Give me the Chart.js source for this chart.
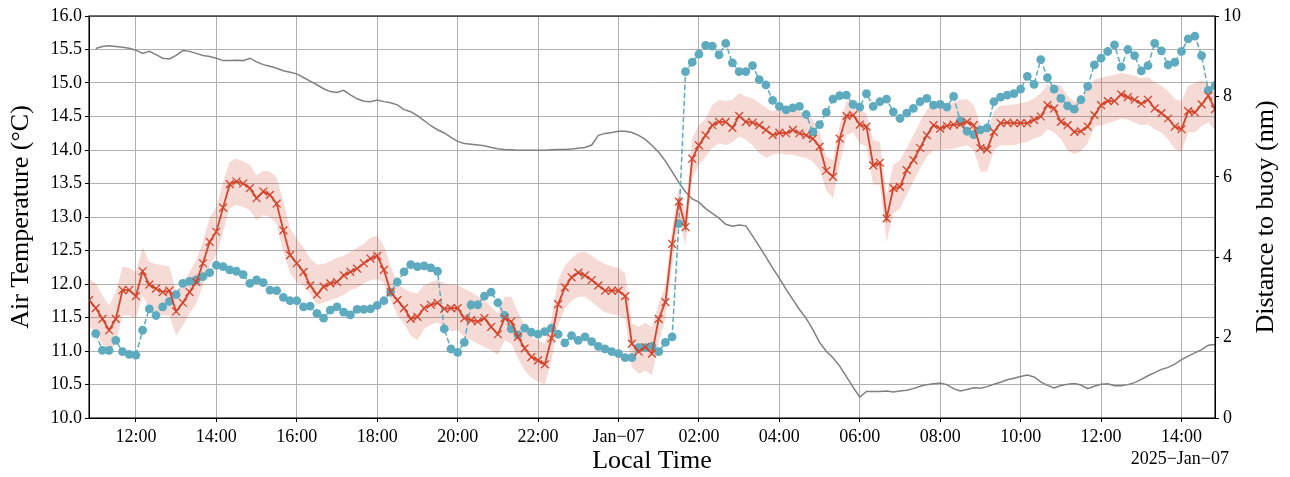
<!DOCTYPE html>
<html>
<head>
<meta charset="utf-8">
<script src="https://cdn.jsdelivr.net/npm/chart.js@4"></script>
<style>
  body { margin: 0; background: #fff; }
</style>
</head>
<body>
<canvas id="tempChart" width="1290" height="477"></canvas>
<script>
// 10-minute samples, starting 2025-01-06 10:50 local time (x in hours since Jan 6 00:00)
const startHour = 10 + 50 / 60;
const stepHour = 10 / 60;

// modelled air temperature (°C)
const modelTemp = [
  11.76, 11.64, 11.48, 11.31, 11.48, 11.91, 11.91, 11.82, 12.19, 11.99, 11.93, 11.88, 11.90, 11.59, 11.72, 11.88, 12.03, 12.31, 12.63, 12.78, 13.14, 13.49, 13.53, 13.50, 13.43,
  13.28, 13.38, 13.33, 13.20, 12.80, 12.43, 12.31, 12.18, 11.98, 11.84, 11.96, 12.01, 12.03, 12.13, 12.18, 12.23, 12.31, 12.38, 12.42, 12.21, 11.88, 11.76, 11.64, 11.48,
  11.51, 11.64, 11.69, 11.72, 11.63, 11.64, 11.64, 11.49, 11.46, 11.44, 11.49, 11.36, 11.25, 11.49, 11.44, 11.21, 11.04, 10.91, 10.86, 10.80, 11.19, 11.70, 11.95, 12.10,
  12.17, 12.13, 12.06, 11.98, 11.90, 11.90, 11.90, 11.82, 11.11, 10.99, 11.06, 10.96, 11.48, 11.73, 12.60, 13.23, 12.85, 13.87, 14.07, 14.22, 14.37, 14.42, 14.42,
  14.33, 14.51, 14.42, 14.41, 14.37, 14.30, 14.22, 14.26, 14.25, 14.30, 14.25, 14.22, 14.17, 14.05, 13.69, 13.60, 14.17, 14.51, 14.52, 14.38, 14.35, 13.77, 13.81, 12.98, 13.43,
  13.45, 13.70, 13.85, 14.03, 14.22, 14.37, 14.32, 14.36, 14.38, 14.38, 14.42, 14.37, 14.03, 14.01, 14.27, 14.40, 14.41, 14.40, 14.40, 14.40, 14.45, 14.50, 14.67,
  14.62, 14.42, 14.37, 14.27, 14.28, 14.35, 14.52, 14.67, 14.73, 14.73, 14.83, 14.79, 14.75, 14.69, 14.75, 14.62, 14.55, 14.47, 14.35, 14.31, 14.58, 14.56, 14.68, 14.81, 14.61
];

// model spread, upper and lower edge
const modelHigh = [
  12.08, 12.01, 11.83, 11.68, 11.88, 12.26, 12.24, 12.18, 12.55, 12.33, 12.30, 12.28, 12.26, 11.88, 12.01, 12.18, 12.36, 12.63, 12.99, 13.15, 13.53, 13.83, 13.87, 13.83, 13.78,
  13.62, 13.69, 13.68, 13.59, 13.23, 12.83, 12.68, 12.54, 12.38, 12.29, 12.30, 12.34, 12.39, 12.42, 12.48, 12.54, 12.60, 12.69, 12.72, 12.57, 12.26, 12.01, 11.93,
  11.88, 11.86, 11.98, 12.03, 12.06, 12.01, 11.99, 11.99, 11.93, 11.88, 11.82, 11.76, 11.66, 11.56, 11.81, 11.81, 11.58, 11.38, 11.21, 11.16, 11.11, 11.48, 12.06,
  12.28, 12.38, 12.47, 12.48, 12.42, 12.35, 12.30, 12.26, 12.24, 12.16, 11.41, 11.36, 11.42, 11.36, 11.71, 11.98, 12.83, 13.43, 13.08, 14.17, 14.37, 14.47, 14.67, 14.75,
  14.73, 14.75, 14.85, 14.80, 14.77, 14.71, 14.63, 14.58, 14.62, 14.60, 14.62, 14.58, 14.53, 14.45, 14.27, 13.90, 13.85, 14.37, 14.73, 14.73, 14.60, 14.55, 14.15, 14.12,
  13.33, 13.78, 13.85, 14.03, 14.22, 14.42, 14.60, 14.70, 14.71, 14.70, 14.71, 14.75, 14.76, 14.67, 14.37, 14.27, 14.57, 14.66, 14.67, 14.68, 14.70, 14.72, 14.77, 14.85,
  14.97, 14.98, 14.96, 14.81, 14.72, 14.76, 14.90, 15.05, 15.08, 15.10, 15.12, 15.15, 15.13, 15.11, 15.07, 15.09, 15.01, 14.96, 14.88, 14.76, 14.73, 14.96, 15.00, 15.04, 14.98, 14.85
];
const modelLow = [
  11.38, 11.28, 11.11, 10.94, 11.13, 11.53, 11.53, 11.48, 11.83, 11.63, 11.58, 11.53, 11.53, 11.23, 11.38, 11.56, 11.71, 11.98, 12.28, 12.43, 12.78, 13.13, 13.18, 13.15, 13.10,
  12.95, 13.03, 13.00, 12.89, 12.48, 12.16, 12.03, 11.97, 11.86, 11.69, 11.72, 11.76, 11.79, 11.84, 11.91, 11.94, 12.01, 12.06, 12.07, 12.02, 11.76, 11.53, 11.41,
  11.23, 11.16, 11.33, 11.39, 11.43, 11.36, 11.29, 11.31, 11.21, 11.16, 11.11, 11.06, 11.01, 10.94, 11.16, 11.11, 10.89, 10.71, 10.60, 10.54, 10.50, 10.86, 11.38,
  11.63, 11.75, 11.81, 11.81, 11.74, 11.65, 11.58, 11.55, 11.53, 11.48, 10.76, 10.66, 10.71, 10.64, 11.13, 11.48, 12.28, 12.98, 12.58, 13.58, 13.78, 13.90, 14.03, 14.10,
  14.07, 14.12, 14.20, 14.15, 14.07, 13.95, 13.88, 13.93, 13.95, 13.93, 13.93, 13.90, 13.88, 13.83, 13.70, 13.40, 13.28, 13.78, 14.22, 14.26, 14.10, 14.05, 13.48, 13.48,
  12.63, 13.05, 13.13, 13.33, 13.53, 13.73, 13.90, 14.00, 14.00, 14.01, 14.02, 14.05, 14.07, 14.00, 13.68, 13.68, 14.00, 14.07, 14.07, 14.07, 14.10, 14.12, 14.17, 14.20,
  14.31, 14.26, 14.16, 13.99, 13.94, 13.98, 14.10, 14.35, 14.37, 14.40, 14.43, 14.47, 14.45, 14.41, 14.37, 14.38, 14.31, 14.26, 14.16, 14.02, 13.97, 14.26, 14.26, 14.36, 14.41, 14.30
];

// measured air temperature (°C)
const obsTemp = [
  null,
  11.26, 11.01, 11.01, 11.16, 10.99, 10.95, 10.94, 11.31, 11.63, 11.53, 11.66, 11.74, 11.84, 12.01, 12.04, 12.06, 12.11, 12.17, 12.28, 12.26, 12.21, 12.19, 12.14, 12.01,
  12.06, 12.02, 11.91, 11.90, 11.80, 11.75, 11.75, 11.66, 11.67, 11.56, 11.49, 11.61, 11.66, 11.58, 11.54, 11.62, 11.62, 11.63, 11.68, 11.75, 11.88, 12.03, 12.18, 12.29,
  12.26, 12.27, 12.24, 12.19, 11.33, 11.03, 10.98, 11.13, 11.69, 11.69, 11.82, 11.88, 11.72, 11.53, 11.33, 11.24, 11.34, 11.28, 11.25, 11.29, 11.34, 11.25, 11.12, 11.23,
  11.16, 11.21, 11.14, 11.07, 11.03, 10.99, 10.96, 10.90, 10.90, 11.05, 11.05, 11.07, 10.99, 11.13, 11.21, 12.90, 15.17, 15.31, 15.43, 15.56, 15.55, 15.42, 15.59,
  15.30, 15.17, 15.17, 15.26, 15.05, 14.97, 14.74, 14.65, 14.60, 14.63, 14.65, 14.53, 14.27, 14.38, 14.56, 14.76, 14.81, 14.82, 14.68, 14.64, 14.84, 14.65, 14.72, 14.76, 14.57,
  14.47, 14.55, 14.62, 14.72, 14.77, 14.67, 14.68, 14.64, 14.80, 14.43, 14.28, 14.23, 14.30, 14.33, 14.72, 14.79, 14.82, 14.84, 14.91, 15.10, 14.98, 15.35, 15.08,
  14.91, 14.77, 14.66, 14.61, 14.75, 14.95, 15.27, 15.37, 15.47, 15.57, 15.24, 15.50, 15.41, 15.18, 15.26, 15.59, 15.48, 15.27, 15.31, 15.47, 15.66, 15.70, 15.41, 14.89, 14.96
];

// distance to buoy (nm)
const buoyDist = [
  null,
  9.19, 9.24, 9.26, 9.24, 9.22, 9.20, 9.15, 9.07, 9.12, 9.04, 8.95, 8.93, 9.02, 9.14, 9.12, 9.07, 9.02, 8.99, 8.95, 8.89, 8.89, 8.90, 8.89, 8.95,
  8.86, 8.79, 8.75, 8.70, 8.64, 8.60, 8.56, 8.47, 8.38, 8.29, 8.19, 8.12, 8.10, 8.15, 8.04, 7.94, 7.88, 7.87, 7.91, 7.87, 7.84, 7.79, 7.67, 7.62,
  7.52, 7.40, 7.27, 7.17, 7.09, 6.98, 6.88, 6.83, 6.81, 6.79, 6.77, 6.73, 6.70, 6.68, 6.67, 6.66, 6.66, 6.66, 6.66, 6.66, 6.67, 6.68, 6.68, 6.69,
  6.71, 6.73, 6.79, 7.03, 7.08, 7.10, 7.13, 7.13, 7.10, 7.03, 6.93, 6.78, 6.61, 6.39, 6.13, 5.86, 5.63, 5.45, 5.37, 5.21, 5.09, 4.97, 4.82,
  4.77, 4.80, 4.78, 4.53, 4.27, 4.01, 3.73, 3.48, 3.20, 2.95, 2.70, 2.48, 2.20, 1.88, 1.66, 1.50, 1.29, 1.03, 0.77, 0.52, 0.66, 0.66, 0.66, 0.67, 0.65,
  0.67, 0.69, 0.73, 0.79, 0.83, 0.85, 0.87, 0.83, 0.73, 0.67, 0.71, 0.75, 0.74, 0.78, 0.84, 0.89, 0.95, 0.99, 1.03, 1.07, 1.02, 0.90, 0.81,
  0.75, 0.81, 0.84, 0.86, 0.82, 0.73, 0.79, 0.84, 0.85, 0.80, 0.80, 0.83, 0.88, 0.96, 1.05, 1.13, 1.21, 1.26, 1.34, 1.45, 1.54, 1.62, 1.70, 1.81, 1.83
];

// x-axis ticks (hours since Jan 6 00:00) and their labels
const tickHours = [12, 14, 16, 18, 20, 22, 24, 26, 28, 30, 32, 34, 36, 38];
const tickLabels = ["12:00", "14:00", "16:00", "18:00", "20:00", "22:00", "Jan\u221207",
  "02:00", "04:00", "06:00", "08:00", "10:00", "12:00", "14:00"];
const dateLabel = "2025\u2212Jan\u221207";

const hours = modelTemp.map((_, i) => startHour + i * stepHour);
const toPoints = (vals) => vals.map((v, i) => ({ x: hours[i], y: v })).filter((p) => p.y !== null);

const serif = "'Liberation Serif', 'Times New Roman', serif";
Chart.defaults.font.family = serif;
Chart.defaults.color = "#000";

const red = "#d3452c";
const blue = "#5eabbf";

// frame, right-hand axis label and date stamp
const decor = {
  id: "decor",
  afterDraw(chart) {
    const { ctx, chartArea: a } = chart;
    ctx.save();
    ctx.strokeStyle = "#000";
    ctx.lineWidth = 1.1;
    ctx.strokeRect(a.left, a.top, a.right - a.left, a.bottom - a.top);

    ctx.fillStyle = "#000";
    ctx.font = "26px " + serif;
    ctx.textAlign = "center";
    ctx.textBaseline = "middle";
    ctx.translate(1266, (a.top + a.bottom) / 2);
    ctx.rotate(-Math.PI / 2);
    ctx.fillText("Distance to buoy (nm)", 0, 0);
    ctx.restore();

    ctx.save();
    ctx.fillStyle = "#000";
    ctx.font = "18px " + serif;
    ctx.textAlign = "right";
    ctx.textBaseline = "alphabetic";
    ctx.fillText(dateLabel, 1229, 464);
    ctx.restore();
  },
};

let tempChart = new Chart(document.getElementById("tempChart").getContext("2d"), {
  type: "line",
  data: {
    datasets: [
      {
        data: toPoints(modelTemp),
        borderColor: red,
        borderWidth: 1.8,
        pointStyle: "crossRot",
        pointRadius: 5.5,
        pointBorderWidth: 1.3,
        pointBorderColor: red,
        fill: false,
        order: 1,
      },
      {
        data: toPoints(obsTemp),
        borderColor: blue,
        borderWidth: 1.5,
        borderDash: [5.5, 2.5],
        pointRadius: 4.4,
        pointBorderWidth: 0,
        pointBackgroundColor: blue,
        fill: false,
        order: 2,
      },
      {
        data: toPoints(buoyDist),
        yAxisID: "y2",
        borderColor: "#808080",
        borderWidth: 1.5,
        pointRadius: 0,
        fill: false,
        order: 3,
      },
      {
        data: toPoints(modelLow),
        borderWidth: 0,
        pointRadius: 0,
        fill: false,
        order: 5,
      },
      {
        data: toPoints(modelHigh),
        borderWidth: 0,
        pointRadius: 0,
        fill: "-1",
        backgroundColor: "rgba(211, 69, 44, 0.2)",
        order: 4,
      },
    ],
  },
  options: {
    responsive: false,
    animation: false,
    devicePixelRatio: 1,
    layout: { padding: { top: 16, left: 0, right: 0, bottom: 0 } },
    plugins: {
      legend: { display: false },
      tooltip: { enabled: false },
      filler: { drawTime: "beforeDatasetsDraw" },
    },
    scales: {
      x: {
        type: "linear",
        min: hours[0],
        max: hours[hours.length - 1],
        afterBuildTicks: (scale) => {
          scale.ticks = tickHours.map((v) => ({ value: v }));
        },
        afterFit: (scale) => {
          scale.height = 59;
        },
        grid: { color: "#b0b0b0", lineWidth: 1, tickLength: 4, tickColor: "#000" },
        border: { color: "#000", width: 1 },
        ticks: {
          autoSkip: false,
          maxRotation: 0,
          padding: 4,
          font: { size: 18 },
          callback: (v) => tickLabels[tickHours.indexOf(v)],
        },
        title: {
          display: true,
          text: "Local Time",
          font: { size: 26 },
          padding: { top: 0, bottom: 0 },
        },
      },
      y: {
        position: "left",
        min: 10,
        max: 16,
        afterFit: (scale) => {
          scale.width = 89;
        },
        grid: { color: "#b0b0b0", lineWidth: 1, tickLength: 4, tickColor: "#000" },
        border: { color: "#000", width: 1 },
        ticks: {
          stepSize: 0.5,
          padding: 3,
          font: { size: 18 },
          callback: (v) => v.toFixed(1),
        },
        title: {
          display: true,
          text: "Air Temperature (\u00b0C)",
          font: { size: 26 },
          padding: { top: 6, bottom: 0 },
        },
      },
      y2: {
        position: "right",
        min: 0,
        max: 10,
        afterFit: (scale) => {
          scale.width = 75;
        },
        grid: { drawOnChartArea: false, tickLength: 4, tickColor: "#000" },
        border: { color: "#000", width: 1 },
        ticks: { stepSize: 2, padding: 4, font: { size: 18 } },
      },
    },
  },
  plugins: [decor],
});
</script>
</body>
</html>
